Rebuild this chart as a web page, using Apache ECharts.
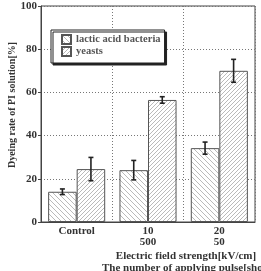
<!DOCTYPE html>
<html>
<head>
<meta charset="utf-8">
<script src="https://cdn.jsdelivr.net/npm/echarts@6/dist/echarts.min.js"></script>
<style>
html, body { margin: 0; padding: 0; background: #fff; }
#main { width: 261px; height: 271px; }
</style>
</head>
<body>
<div id="main"></div>
<script>
var categories = ['Control', '10\n500', '20\n50'];
var lactic = [14, 24, 34.2];
var lacticErr = [1.3, 4.5, 2.8];
var yeasts = [24.5, 56.5, 70];
var yeastsErr = [5.4, 1.5, 5.3];

var FONT = '"Liberation Serif", "DejaVu Serif", serif';

// hatch tile, dir 1 = "\" , -1 = "/"
function hatch(dir, s) {
    var c = document.createElement('canvas');
    c.width = s; c.height = s;
    var ctx = c.getContext('2d');
    ctx.fillStyle = '#fff';
    ctx.fillRect(0, 0, s, s);
    ctx.strokeStyle = '#a8a8a8';
    ctx.lineWidth = 0.8;
    ctx.beginPath();
    for (var k = -1; k <= 1; k++) {
        if (dir > 0) {
            ctx.moveTo(k * s - 1, -1);
            ctx.lineTo(k * s + s + 1, s + 1);
        } else {
            ctx.moveTo(k * s - 1, s + 1);
            ctx.lineTo(k * s + s + 1, -1);
        }
    }
    ctx.stroke();
    return c;
}

var myChart = echarts.init(document.getElementById('main'));

function errRender(values, errs, side) {
    return function (params, api) {
        var i = api.value(0);
        var band = api.size([1, 0])[0];
        var p = api.coord([i, values[i]]);
        var x = p[0] + side * band * 0.2;
        var top = api.coord([i, values[i] + errs[i]])[1];
        var bot = api.coord([i, values[i] - errs[i]])[1];
        var st = { stroke: '#222', lineWidth: 1.6 };
        return {
            type: 'group',
            children: [
                { type: 'line', shape: { x1: x, y1: top, x2: x, y2: bot }, style: st },
                { type: 'line', shape: { x1: x - 2.5, y1: top, x2: x + 2.5, y2: top }, style: st },
                { type: 'line', shape: { x1: x - 2.5, y1: bot, x2: x + 2.5, y2: bot }, style: st }
            ]
        };
    };
}

var option = {
    animation: false,
    grid: {
        left: 41, right: 6, top: 6, bottom: 49,
        show: true, borderColor: '#444', borderWidth: 1
    },
    legend: {
        orient: 'vertical',
        left: 51, top: 30,
        padding: [4, 4, 6, 10],
        itemWidth: 9, itemHeight: 9, itemGap: 1,
        icon: 'rect',
        backgroundColor: '#fff',
        borderColor: '#222', borderWidth: 1,
        shadowColor: '#222', shadowOffsetX: 2, shadowOffsetY: 2, shadowBlur: 0,
        textStyle: { fontFamily: FONT, fontWeight: 'bold', fontSize: 10.5, color: '#555', lineHeight: 10 },
        data: ['lactic acid bacteria', 'yeasts']
    },
    xAxis: {
        type: 'category',
        data: categories,
        axisLine: { lineStyle: { color: '#444' } },
        axisTick: { show: false },
        axisLabel: { fontFamily: FONT, fontWeight: 'bold', fontSize: 11, color: '#333', lineHeight: 11, margin: 4 },
        splitLine: { show: true, interval: 0, lineStyle: { color: '#777', type: [1, 2] } }
    },
    yAxis: {
        type: 'value',
        min: 0, max: 100, interval: 20,
        axisLine: { show: true, lineStyle: { color: '#444' } },
        axisTick: { show: true, length: 3, lineStyle: { color: '#444' } },
        axisLabel: { fontFamily: FONT, fontWeight: 'bold', fontSize: 11, color: '#333', margin: 4 },
        splitLine: { lineStyle: { color: '#777', type: [1, 2] } }
    },
    graphic: [
        {
            type: 'text', x: 12, y: 105, rotation: Math.PI / 2,
            style: { text: 'Dyeing rate of PI solution[%]', font: 'bold 10px ' + FONT, fill: '#333', align: 'center', verticalAlign: 'middle' }
        },
        {
            type: 'text', x: 186, y: 256,
            style: { text: 'Electric field strength[kV/cm]', font: 'bold 11px ' + FONT, fill: '#333', align: 'center', verticalAlign: 'middle' }
        },
        {
            type: 'text', x: 186, y: 268,
            style: { text: 'The number of applying pulse[shot]', font: 'bold 11px ' + FONT, fill: '#333', align: 'center', verticalAlign: 'middle' }
        }
    ],
    series: [
        {
            name: 'lactic acid bacteria', type: 'bar', data: lactic,
            barGap: 0, barCategoryGap: '20%',
            itemStyle: { color: { image: hatch(1, 5), repeat: 'repeat' }, borderColor: '#555', borderWidth: 1 }
        },
        {
            name: 'yeasts', type: 'bar', data: yeasts,
            barGap: 0, barCategoryGap: '20%',
            itemStyle: { color: { image: hatch(-1, 4), repeat: 'repeat' }, borderColor: '#555', borderWidth: 1 }
        },
        {
            type: 'custom', data: lactic.map(function (v, i) { return [i, v]; }),
            renderItem: errRender(lactic, lacticErr, -1), z: 5, silent: true
        },
        {
            type: 'custom', data: yeasts.map(function (v, i) { return [i, v]; }),
            renderItem: errRender(yeasts, yeastsErr, 1), z: 5, silent: true
        }
    ]
};

myChart.setOption(option);
</script>
</body>
</html>
